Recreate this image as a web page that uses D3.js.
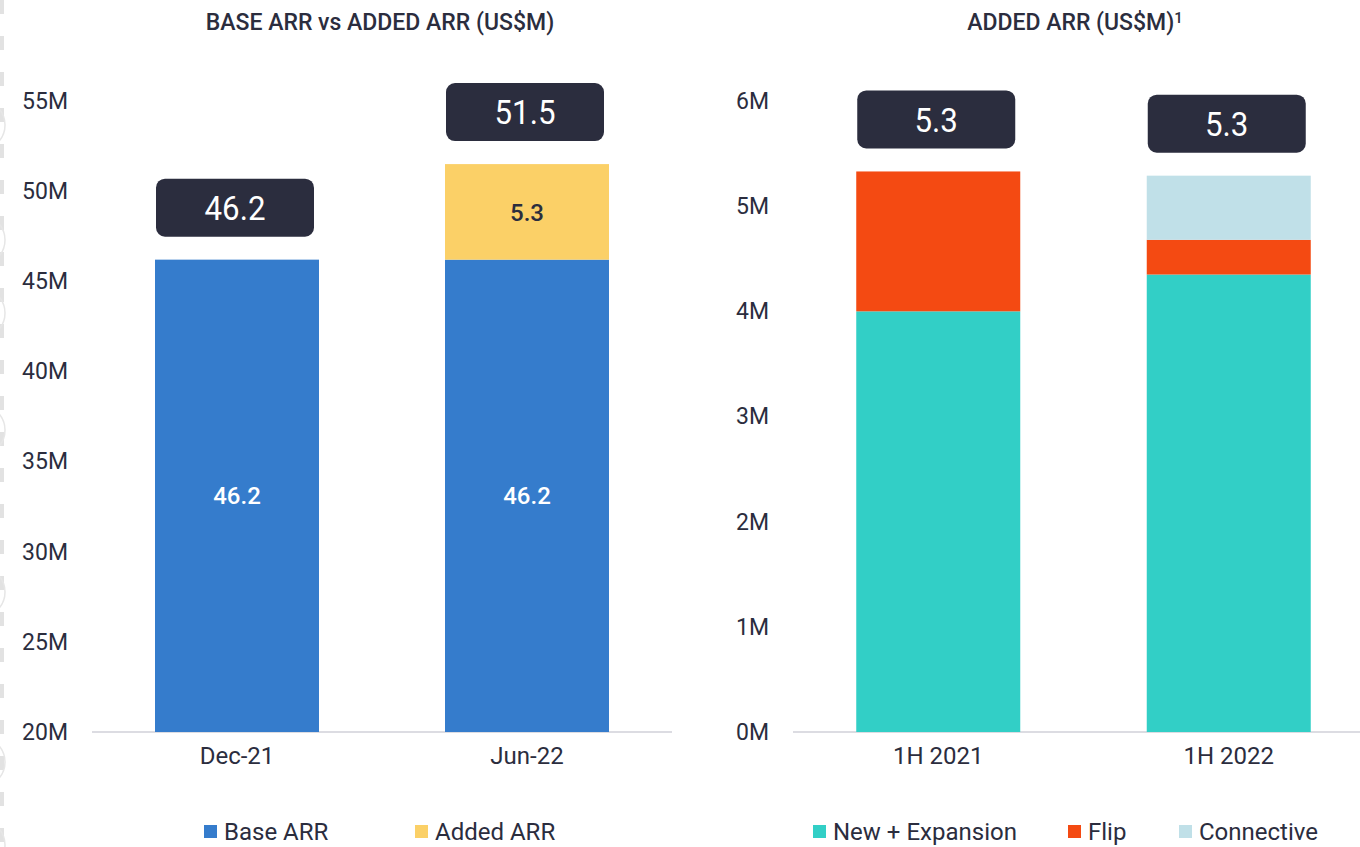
<!DOCTYPE html>
<html><head><meta charset="utf-8">
<script src="https://cdn.jsdelivr.net/npm/d3@7"></script>
<style>
html,body{margin:0;padding:0;background:#fff;}
svg{display:block;font-family:"Roboto","Liberation Sans",sans-serif;}
</style></head>
<body>
<svg id="c" width="1360" height="847"></svg>
<script>
// ---- data ----
const leftTitle = "BASE ARR vs ADDED ARR (US$M)";
const leftCategories = ["Dec-21", "Jun-22"];
const baseARR = [46.2, 46.2];
const addedARR = [0, 5.3];
const leftTotals = ["46.2", "51.5"];
const leftTicks = [20, 25, 30, 35, 40, 45, 50, 55];
const leftSeries = ["Base ARR", "Added ARR"];

const rightTitle = "ADDED ARR (US$M)";
const rightCategories = ["1H 2021", "1H 2022"];
const newExpansion = [4.0, 4.35];
const flip = [1.33, 0.33];
const connective = [0, 0.61];
const rightTotals = ["5.3", "5.3"];
const rightTicks = [0, 1, 2, 3, 4, 5, 6];
const rightSeries = ["New + Expansion", "Flip", "Connective"];

const colors = {
  "Base ARR": "#357ccc", "Added ARR": "#fbd067",
  "New + Expansion": "#32cfc6", "Flip": "#f44a12", "Connective": "#c0e0e8"
};
const dark = "#2b2d3e";
const axisCol = "#dcdce2";

const svg = d3.select("#c");

// faint left-edge decoration
svg.append("line").attr("x1", 2).attr("x2", 2).attr("y1", 0).attr("y2", 847)
  .attr("stroke", "#e2e2e2").attr("stroke-width", 4).attr("stroke-dasharray", "14,22");
[125, 240, 313, 430, 592, 762, 845].forEach(cy => {
  svg.append("circle").attr("cx", -20).attr("cy", cy).attr("r", 25)
    .attr("fill", "none").attr("stroke", "#e6e6e6").attr("stroke-width", 1.5);
});

function drawChart(opt) {
  const g = svg.append("g");
  const y = d3.scaleLinear().domain(opt.domain).range([732, 101]).clamp(true);
  const x = d3.scaleBand().domain(opt.categories).range(opt.xRange).padding(0);
  const bw = 164;

  // title
  g.append("text").attr("x", opt.titleX).attr("y", 30).attr("text-anchor", "middle")
    .attr("font-size", 23).attr("font-weight", 500).attr("fill", dark)
    .text(opt.title)
    .call(t => { if (opt.sup) t.append("tspan").attr("dy", -7).attr("font-size", 15).text(opt.sup); });

  // y axis labels
  const ya = d3.axisLeft(y).tickValues(opt.ticks).tickSize(0).tickPadding(0)
    .tickFormat(d => d + "M");
  const yg = g.append("g").attr("transform", `translate(${opt.yLabelX},0)`).call(ya);
  yg.select(".domain").remove();
  yg.selectAll("text").attr("font-size", 23).attr("fill", dark)
    .attr("font-family", "'Roboto','Liberation Sans',sans-serif");

  // baseline
  g.append("line").attr("x1", opt.axisX[0]).attr("x2", opt.axisX[1])
    .attr("y1", 732).attr("y2", 732).attr("stroke", axisCol).attr("stroke-width", 2);

  // x labels
  const xa = d3.axisBottom(x).tickSize(0).tickPadding(0);
  const xg = g.append("g").attr("transform", "translate(0,742)").call(xa);
  xg.select(".domain").remove();
  xg.selectAll("text").attr("font-size", 24).attr("fill", dark).attr("dy", "0.9em")
    .attr("font-family", "'Roboto','Liberation Sans',sans-serif");

  // stacked bars
  const rows = opt.categories.map((c, i) => {
    const r = { cat: c };
    opt.series.forEach((s, k) => r[s] = opt.values[k][i]);
    return r;
  });
  const stack = d3.stack().keys(opt.series)(rows);
  stack.forEach(layer => {
    g.append("g").selectAll("rect").data(layer.filter(d => d[1] > d[0])).join("rect")
      .attr("x", d => x(d.data.cat) + x.bandwidth() / 2 - bw / 2)
      .attr("width", bw)
      .attr("y", d => y(d[1]))
      .attr("height", d => y(d[0]) - y(d[1]))
      .attr("fill", colors[layer.key]);
  });

  // inner labels
  if (opt.innerLabels) {
    stack.forEach((layer, k) => {
      g.append("g").selectAll("text").data(layer.filter(d => d[1] > d[0])).join("text")
        .attr("x", d => x(d.data.cat) + x.bandwidth() / 2)
        .attr("y", d => (y(d[0]) + y(d[1])) / 2)
        .attr("dy", "0.36em").attr("text-anchor", "middle")
        .attr("font-size", 24).attr("font-weight", 500)
        .attr("fill", k === 0 ? "#ffffff" : dark)
        .text(d => (d[1] - d[0]).toFixed(1));
    });
  }

  // total boxes
  const last = stack[stack.length - 1];
  opt.categories.forEach((c, i) => {
    const top = y(last[i][1]);
    const cx = x(c) + x.bandwidth() / 2 - 2;
    const bh = 58, bwid = 158;
    g.append("rect").attr("x", cx - bwid / 2).attr("y", top - 23 - bh)
      .attr("width", bwid).attr("height", bh).attr("rx", 9)
      .attr("fill", dark);
    g.append("text").attr("x", cx).attr("y", top - 23 - bh / 2).attr("dy", "0.36em")
      .attr("text-anchor", "middle").attr("font-size", 34).attr("font-weight", 400)
      .attr("fill", "#ffffff").attr("font-family", "'Roboto','Liberation Sans',sans-serif")
      .attr("transform", `translate(${cx},0) scale(0.92,1) translate(${-cx},0)`)
      .text(opt.totals[i]);
  });

  // legend
  opt.series.forEach((s, k) => {
    const lx = opt.legendX[k];
    g.append("rect").attr("x", lx).attr("y", 825).attr("width", 13).attr("height", 13)
      .attr("fill", colors[s]);
    g.append("text").attr("x", lx + 20).attr("y", 840).attr("font-size", 24)
      .attr("fill", dark).text(s);
  });
}

drawChart({
  title: leftTitle, titleX: 380,
  categories: leftCategories, series: leftSeries, values: [baseARR, addedARR],
  totals: leftTotals, domain: [20, 55], ticks: leftTicks,
  xRange: [92, 672], axisX: [92, 672], yLabelX: 68,
  innerLabels: true, legendX: [204, 415]
});

drawChart({
  title: rightTitle, sup: "1", titleX: 1075,
  categories: rightCategories, series: rightSeries,
  values: [newExpansion, flip, connective],
  totals: rightTotals, domain: [0, 6], ticks: rightTicks,
  xRange: [793, 1374], axisX: [793, 1360], yLabelX: 769,
  innerLabels: false, legendX: [813, 1068, 1179]
});
</script>
</body></html>
